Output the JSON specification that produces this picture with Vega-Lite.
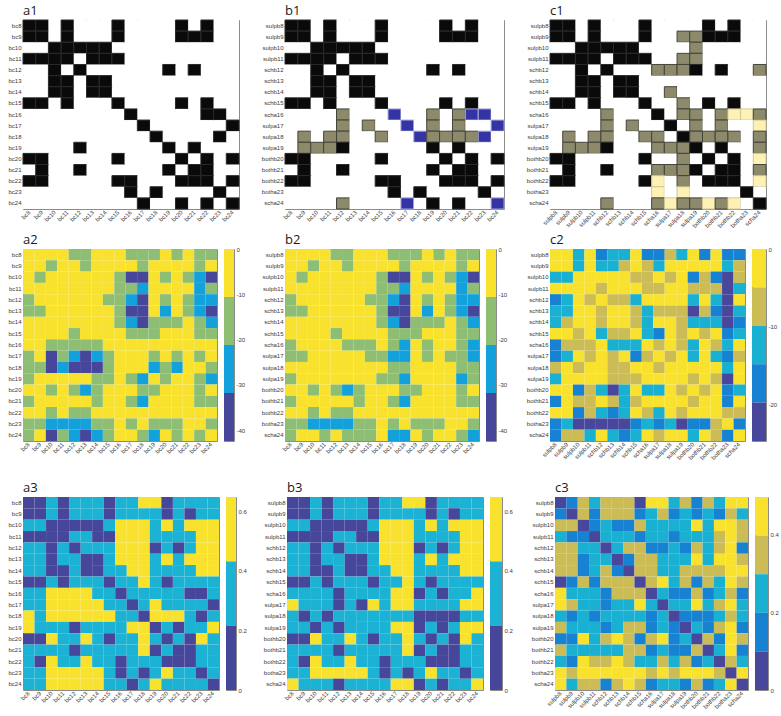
{
"$schema":"https://vega.github.io/schema/vega-lite/v6.json",
"background":"white",
"padding":{"left":-14,"top":4,"right":0,"bottom":0},
"columns":1,
"spacing":-7,
"align":"none",
"config":{
 "view":{"stroke":"#8a8a8a","strokeWidth":1},
 "axis":{"ticks":false,"domain":false,"grid":false,"labelFont":"Liberation Sans","labelFontSize":6,"labelColor":"#3a3a3a","labelPadding":2},
 "title":{"font":"Open Sans","fontSize":13,"fontWeight":"normal","anchor":"start","frame":"group","offset":2,"color":"#1a1a1a"}
},
"datasets":{
"cbA2":[{"k":0,"lo":-10.6,"hi":0},{"k":1,"lo":-21.2,"hi":-10.6},{"k":2,"lo":-31.8,"hi":-21.2},{"k":3,"lo":-42.4,"hi":-31.8}],
"cbC2":[{"k":0,"lo":-4.94,"hi":0},{"k":1,"lo":-9.88,"hi":-4.94},{"k":2,"lo":-14.82,"hi":-9.88},{"k":3,"lo":-19.76,"hi":-14.82},{"k":4,"lo":-24.7,"hi":-19.76}],
"cbA3":[{"k":0,"lo":0.431,"hi":0.647},{"k":1,"lo":0.216,"hi":0.431},{"k":2,"lo":0,"hi":0.216}],
"cbC3":[{"k":0,"lo":0.398,"hi":0.4975},{"k":1,"lo":0.2985,"hi":0.398},{"k":2,"lo":0.199,"hi":0.2985},{"k":3,"lo":0.0995,"hi":0.199},{"k":4,"lo":0,"hi":0.0995}],
"m":[
{"i":0,"j":0,"a1":1,"b1":1,"c1":1,"a2":0,"b2":0,"c2":0,"a3":2,"b3":2,"c3":4},
{"i":0,"j":1,"a1":1,"b1":1,"c1":1,"a2":0,"b2":0,"c2":0,"a3":2,"b3":2,"c3":3},
{"i":0,"j":2,"a1":0,"b1":0,"c1":0,"a2":0,"b2":0,"c2":2,"a3":1,"b3":1,"c3":1},
{"i":0,"j":3,"a1":1,"b1":1,"c1":1,"a2":0,"b2":0,"c2":0,"a3":2,"b3":2,"c3":2},
{"i":0,"j":4,"a1":0,"b1":0,"c1":0,"a2":1,"b2":1,"c2":3,"a3":1,"b3":1,"c3":1},
{"i":0,"j":5,"a1":0,"b1":0,"c1":0,"a2":1,"b2":1,"c2":2,"a3":1,"b3":1,"c3":1},
{"i":0,"j":6,"a1":0,"b1":0,"c1":0,"a2":0,"b2":0,"c2":2,"a3":1,"b3":1,"c3":1},
{"i":0,"j":7,"a1":1,"b1":1,"c1":1,"a2":0,"b2":0,"c2":0,"a3":2,"b3":2,"c3":4},
{"i":0,"j":8,"a1":0,"b1":0,"c1":0,"a2":0,"b2":0,"c2":3,"a3":1,"b3":1,"c3":0},
{"i":0,"j":9,"a1":0,"b1":0,"c1":0,"a2":1,"b2":1,"c2":3,"a3":1,"b3":1,"c3":0},
{"i":0,"j":10,"a1":0,"b1":0,"c1":0,"a2":1,"b2":1,"c2":1,"a3":0,"b3":0,"c3":2},
{"i":0,"j":11,"a1":0,"b1":0,"c1":0,"a2":1,"b2":1,"c2":2,"a3":0,"b3":0,"c3":1},
{"i":0,"j":12,"a1":1,"b1":1,"c1":1,"a2":0,"b2":0,"c2":0,"a3":2,"b3":2,"c3":3},
{"i":0,"j":13,"a1":0,"b1":0,"c1":0,"a2":1,"b2":1,"c2":3,"a3":1,"b3":1,"c3":1},
{"i":0,"j":14,"a1":1,"b1":1,"c1":1,"a2":0,"b2":0,"c2":0,"a3":1,"b3":1,"c3":2},
{"i":0,"j":15,"a1":0,"b1":0,"c1":0,"a2":1,"b2":1,"c2":3,"a3":1,"b3":1,"c3":0},
{"i":0,"j":16,"a1":0,"b1":0,"c1":0,"a2":1,"b2":1,"c2":3,"a3":1,"b3":1,"c3":0},
{"i":1,"j":0,"a1":1,"b1":1,"c1":1,"a2":0,"b2":0,"c2":0,"a3":2,"b3":2,"c3":3},
{"i":1,"j":1,"a1":1,"b1":1,"c1":1,"a2":0,"b2":0,"c2":0,"a3":2,"b3":2,"c3":4},
{"i":1,"j":2,"a1":0,"b1":0,"c1":0,"a2":1,"b2":1,"c2":2,"a3":1,"b3":1,"c3":1},
{"i":1,"j":3,"a1":1,"b1":1,"c1":1,"a2":0,"b2":0,"c2":0,"a3":2,"b3":2,"c3":3},
{"i":1,"j":4,"a1":0,"b1":0,"c1":0,"a2":0,"b2":0,"c2":2,"a3":1,"b3":1,"c3":1},
{"i":1,"j":5,"a1":0,"b1":0,"c1":0,"a2":1,"b2":1,"c2":2,"a3":1,"b3":1,"c3":1},
{"i":1,"j":6,"a1":0,"b1":0,"c1":0,"a2":0,"b2":0,"c2":1,"a3":1,"b3":1,"c3":1},
{"i":1,"j":7,"a1":1,"b1":1,"c1":1,"a2":0,"b2":0,"c2":0,"a3":2,"b3":2,"c3":3},
{"i":1,"j":8,"a1":0,"b1":0,"c1":0,"a2":0,"b2":0,"c2":1,"a3":1,"b3":1,"c3":2},
{"i":1,"j":9,"a1":0,"b1":0,"c1":0,"a2":0,"b2":0,"c2":2,"a3":1,"b3":1,"c3":1},
{"i":1,"j":10,"a1":0,"b1":0,"c1":2,"a2":1,"b2":1,"c2":0,"a3":1,"b3":1,"c3":3},
{"i":1,"j":11,"a1":0,"b1":0,"c1":2,"a2":0,"b2":0,"c2":0,"a3":1,"b3":1,"c3":2},
{"i":1,"j":12,"a1":1,"b1":1,"c1":1,"a2":0,"b2":0,"c2":0,"a3":2,"b3":2,"c3":3},
{"i":1,"j":13,"a1":1,"b1":1,"c1":1,"a2":0,"b2":0,"c2":0,"a3":1,"b3":1,"c3":2},
{"i":1,"j":14,"a1":1,"b1":1,"c1":1,"a2":0,"b2":0,"c2":0,"a3":2,"b3":2,"c3":3},
{"i":1,"j":15,"a1":0,"b1":0,"c1":0,"a2":1,"b2":1,"c2":2,"a3":1,"b3":1,"c3":1},
{"i":1,"j":16,"a1":0,"b1":0,"c1":0,"a2":0,"b2":0,"c2":1,"a3":1,"b3":1,"c3":2},
{"i":2,"j":0,"a1":0,"b1":0,"c1":0,"a2":0,"b2":0,"c2":2,"a3":1,"b3":1,"c3":1},
{"i":2,"j":1,"a1":0,"b1":0,"c1":0,"a2":1,"b2":1,"c2":2,"a3":1,"b3":1,"c3":1},
{"i":2,"j":2,"a1":1,"b1":1,"c1":1,"a2":0,"b2":0,"c2":0,"a3":2,"b3":2,"c3":4},
{"i":2,"j":3,"a1":1,"b1":1,"c1":1,"a2":0,"b2":0,"c2":0,"a3":2,"b3":2,"c3":3},
{"i":2,"j":4,"a1":1,"b1":1,"c1":1,"a2":0,"b2":0,"c2":0,"a3":2,"b3":2,"c3":2},
{"i":2,"j":5,"a1":1,"b1":1,"c1":1,"a2":0,"b2":0,"c2":0,"a3":2,"b3":2,"c3":3},
{"i":2,"j":6,"a1":1,"b1":1,"c1":1,"a2":0,"b2":0,"c2":0,"a3":2,"b3":2,"c3":3},
{"i":2,"j":7,"a1":0,"b1":0,"c1":0,"a2":0,"b2":0,"c2":1,"a3":1,"b3":1,"c3":1},
{"i":2,"j":8,"a1":0,"b1":0,"c1":0,"a2":1,"b2":1,"c2":1,"a3":0,"b3":0,"c3":2},
{"i":2,"j":9,"a1":0,"b1":0,"c1":0,"a2":3,"b2":3,"c2":0,"a3":0,"b3":0,"c3":2},
{"i":2,"j":10,"a1":0,"b1":0,"c1":0,"a2":3,"b2":3,"c2":1,"a3":0,"b3":0,"c3":2},
{"i":2,"j":11,"a1":0,"b1":0,"c1":2,"a2":0,"b2":0,"c2":0,"a3":1,"b3":1,"c3":2},
{"i":2,"j":12,"a1":0,"b1":0,"c1":0,"a2":1,"b2":1,"c2":3,"a3":0,"b3":0,"c3":0},
{"i":2,"j":13,"a1":0,"b1":0,"c1":0,"a2":0,"b2":0,"c2":1,"a3":1,"b3":1,"c3":2},
{"i":2,"j":14,"a1":0,"b1":0,"c1":0,"a2":1,"b2":1,"c2":3,"a3":0,"b3":0,"c3":0},
{"i":2,"j":15,"a1":0,"b1":0,"c1":0,"a2":2,"b2":2,"c2":4,"a3":0,"b3":0,"c3":0},
{"i":2,"j":16,"a1":0,"b1":0,"c1":0,"a2":3,"b2":3,"c2":1,"a3":0,"b3":0,"c3":1},
{"i":3,"j":0,"a1":1,"b1":1,"c1":1,"a2":0,"b2":0,"c2":0,"a3":2,"b3":2,"c3":2},
{"i":3,"j":1,"a1":1,"b1":1,"c1":1,"a2":0,"b2":0,"c2":0,"a3":2,"b3":2,"c3":3},
{"i":3,"j":2,"a1":1,"b1":1,"c1":1,"a2":0,"b2":0,"c2":0,"a3":2,"b3":2,"c3":3},
{"i":3,"j":3,"a1":1,"b1":1,"c1":1,"a2":0,"b2":0,"c2":0,"a3":2,"b3":2,"c3":4},
{"i":3,"j":4,"a1":0,"b1":0,"c1":0,"a2":0,"b2":0,"c2":1,"a3":1,"b3":1,"c3":2},
{"i":3,"j":5,"a1":1,"b1":1,"c1":1,"a2":0,"b2":0,"c2":0,"a3":1,"b3":1,"c3":2},
{"i":3,"j":6,"a1":1,"b1":1,"c1":1,"a2":0,"b2":0,"c2":0,"a3":2,"b3":2,"c3":2},
{"i":3,"j":7,"a1":1,"b1":1,"c1":1,"a2":0,"b2":0,"c2":0,"a3":2,"b3":2,"c3":3},
{"i":3,"j":8,"a1":0,"b1":0,"c1":0,"a2":1,"b2":1,"c2":1,"a3":0,"b3":0,"c3":2},
{"i":3,"j":9,"a1":0,"b1":0,"c1":0,"a2":1,"b2":1,"c2":1,"a3":0,"b3":0,"c3":2},
{"i":3,"j":10,"a1":0,"b1":0,"c1":2,"a2":2,"b2":2,"c2":0,"a3":0,"b3":0,"c3":3},
{"i":3,"j":11,"a1":0,"b1":0,"c1":2,"a2":0,"b2":0,"c2":0,"a3":1,"b3":1,"c3":2},
{"i":3,"j":12,"a1":0,"b1":0,"c1":0,"a2":0,"b2":0,"c2":1,"a3":1,"b3":1,"c3":2},
{"i":3,"j":13,"a1":0,"b1":0,"c1":0,"a2":0,"b2":0,"c2":1,"a3":1,"b3":1,"c3":2},
{"i":3,"j":14,"a1":0,"b1":0,"c1":0,"a2":0,"b2":0,"c2":1,"a3":1,"b3":1,"c3":1},
{"i":3,"j":15,"a1":0,"b1":0,"c1":0,"a2":2,"b2":2,"c2":4,"a3":0,"b3":0,"c3":0},
{"i":3,"j":16,"a1":0,"b1":0,"c1":0,"a2":1,"b2":1,"c2":2,"a3":0,"b3":0,"c3":1},
{"i":4,"j":0,"a1":0,"b1":0,"c1":0,"a2":1,"b2":1,"c2":3,"a3":1,"b3":1,"c3":1},
{"i":4,"j":1,"a1":0,"b1":0,"c1":0,"a2":0,"b2":0,"c2":2,"a3":1,"b3":1,"c3":1},
{"i":4,"j":2,"a1":1,"b1":1,"c1":1,"a2":0,"b2":0,"c2":0,"a3":2,"b3":2,"c3":2},
{"i":4,"j":3,"a1":0,"b1":0,"c1":0,"a2":0,"b2":0,"c2":1,"a3":1,"b3":1,"c3":2},
{"i":4,"j":4,"a1":1,"b1":1,"c1":1,"a2":0,"b2":0,"c2":0,"a3":2,"b3":2,"c3":4},
{"i":4,"j":5,"a1":0,"b1":0,"c1":0,"a2":0,"b2":0,"c2":1,"a3":1,"b3":1,"c3":2},
{"i":4,"j":6,"a1":0,"b1":0,"c1":0,"a2":0,"b2":0,"c2":1,"a3":1,"b3":1,"c3":1},
{"i":4,"j":7,"a1":0,"b1":0,"c1":0,"a2":1,"b2":1,"c2":2,"a3":1,"b3":1,"c3":1},
{"i":4,"j":8,"a1":0,"b1":0,"c1":2,"a2":1,"b2":1,"c2":0,"a3":0,"b3":0,"c3":3},
{"i":4,"j":9,"a1":0,"b1":0,"c1":2,"a2":2,"b2":2,"c2":0,"a3":0,"b3":0,"c3":3},
{"i":4,"j":10,"a1":0,"b1":0,"c1":2,"a2":3,"b2":3,"c2":0,"a3":0,"b3":0,"c3":2},
{"i":4,"j":11,"a1":1,"b1":1,"c1":1,"a2":0,"b2":0,"c2":0,"a3":2,"b3":2,"c3":3},
{"i":4,"j":12,"a1":0,"b1":0,"c1":0,"a2":1,"b2":1,"c2":2,"a3":1,"b3":1,"c3":1},
{"i":4,"j":13,"a1":1,"b1":1,"c1":1,"a2":0,"b2":0,"c2":0,"a3":2,"b3":2,"c3":2},
{"i":4,"j":14,"a1":0,"b1":0,"c1":0,"a2":1,"b2":1,"c2":2,"a3":1,"b3":1,"c3":1},
{"i":4,"j":15,"a1":0,"b1":0,"c1":0,"a2":2,"b2":2,"c2":4,"a3":0,"b3":0,"c3":0},
{"i":4,"j":16,"a1":0,"b1":0,"c1":2,"a2":2,"b2":2,"c2":0,"a3":0,"b3":0,"c3":3},
{"i":5,"j":0,"a1":0,"b1":0,"c1":0,"a2":1,"b2":1,"c2":2,"a3":1,"b3":1,"c3":1},
{"i":5,"j":1,"a1":0,"b1":0,"c1":0,"a2":1,"b2":1,"c2":2,"a3":1,"b3":1,"c3":1},
{"i":5,"j":2,"a1":1,"b1":1,"c1":1,"a2":0,"b2":0,"c2":0,"a3":2,"b3":2,"c3":3},
{"i":5,"j":3,"a1":1,"b1":1,"c1":1,"a2":0,"b2":0,"c2":0,"a3":1,"b3":1,"c3":2},
{"i":5,"j":4,"a1":0,"b1":0,"c1":0,"a2":0,"b2":0,"c2":1,"a3":1,"b3":1,"c3":2},
{"i":5,"j":5,"a1":1,"b1":1,"c1":1,"a2":0,"b2":0,"c2":0,"a3":2,"b3":2,"c3":4},
{"i":5,"j":6,"a1":1,"b1":1,"c1":1,"a2":0,"b2":0,"c2":0,"a3":2,"b3":2,"c3":3},
{"i":5,"j":7,"a1":0,"b1":0,"c1":0,"a2":0,"b2":0,"c2":1,"a3":1,"b3":1,"c3":1},
{"i":5,"j":8,"a1":0,"b1":0,"c1":0,"a2":1,"b2":1,"c2":2,"a3":0,"b3":0,"c3":1},
{"i":5,"j":9,"a1":0,"b1":0,"c1":0,"a2":3,"b2":3,"c2":1,"a3":0,"b3":0,"c3":2},
{"i":5,"j":10,"a1":0,"b1":0,"c1":0,"a2":3,"b2":3,"c2":1,"a3":0,"b3":0,"c3":2},
{"i":5,"j":11,"a1":0,"b1":0,"c1":0,"a2":0,"b2":0,"c2":1,"a3":1,"b3":1,"c3":2},
{"i":5,"j":12,"a1":0,"b1":0,"c1":0,"a2":2,"b2":2,"c2":4,"a3":0,"b3":0,"c3":0},
{"i":5,"j":13,"a1":0,"b1":0,"c1":0,"a2":0,"b2":0,"c2":1,"a3":1,"b3":1,"c3":2},
{"i":5,"j":14,"a1":0,"b1":0,"c1":0,"a2":1,"b2":1,"c2":3,"a3":0,"b3":0,"c3":0},
{"i":5,"j":15,"a1":0,"b1":0,"c1":0,"a2":2,"b2":2,"c2":4,"a3":0,"b3":0,"c3":0},
{"i":5,"j":16,"a1":0,"b1":0,"c1":0,"a2":3,"b2":3,"c2":2,"a3":0,"b3":0,"c3":1},
{"i":6,"j":0,"a1":0,"b1":0,"c1":0,"a2":0,"b2":0,"c2":2,"a3":1,"b3":1,"c3":1},
{"i":6,"j":1,"a1":0,"b1":0,"c1":0,"a2":0,"b2":0,"c2":1,"a3":1,"b3":1,"c3":1},
{"i":6,"j":2,"a1":1,"b1":1,"c1":1,"a2":0,"b2":0,"c2":0,"a3":2,"b3":2,"c3":3},
{"i":6,"j":3,"a1":1,"b1":1,"c1":1,"a2":0,"b2":0,"c2":0,"a3":2,"b3":2,"c3":2},
{"i":6,"j":4,"a1":0,"b1":0,"c1":0,"a2":0,"b2":0,"c2":1,"a3":1,"b3":1,"c3":1},
{"i":6,"j":5,"a1":1,"b1":1,"c1":1,"a2":0,"b2":0,"c2":0,"a3":2,"b3":2,"c3":3},
{"i":6,"j":6,"a1":1,"b1":1,"c1":1,"a2":0,"b2":0,"c2":0,"a3":2,"b3":2,"c3":4},
{"i":6,"j":7,"a1":0,"b1":0,"c1":0,"a2":0,"b2":0,"c2":1,"a3":1,"b3":1,"c3":1},
{"i":6,"j":8,"a1":0,"b1":0,"c1":0,"a2":1,"b2":1,"c2":2,"a3":1,"b3":1,"c3":1},
{"i":6,"j":9,"a1":0,"b1":0,"c1":2,"a2":2,"b2":2,"c2":0,"a3":0,"b3":0,"c3":2},
{"i":6,"j":10,"a1":0,"b1":0,"c1":0,"a2":3,"b2":3,"c2":0,"a3":0,"b3":0,"c3":2},
{"i":6,"j":11,"a1":0,"b1":0,"c1":0,"a2":1,"b2":1,"c2":1,"a3":1,"b3":1,"c3":1},
{"i":6,"j":12,"a1":0,"b1":0,"c1":0,"a2":1,"b2":1,"c2":2,"a3":1,"b3":1,"c3":1},
{"i":6,"j":13,"a1":0,"b1":0,"c1":0,"a2":1,"b2":1,"c2":2,"a3":1,"b3":1,"c3":1},
{"i":6,"j":14,"a1":0,"b1":0,"c1":0,"a2":0,"b2":0,"c2":2,"a3":1,"b3":1,"c3":1},
{"i":6,"j":15,"a1":0,"b1":0,"c1":0,"a2":1,"b2":1,"c2":4,"a3":0,"b3":0,"c3":0},
{"i":6,"j":16,"a1":0,"b1":0,"c1":0,"a2":2,"b2":2,"c2":3,"a3":0,"b3":0,"c3":0},
{"i":7,"j":0,"a1":1,"b1":1,"c1":1,"a2":0,"b2":0,"c2":0,"a3":2,"b3":2,"c3":4},
{"i":7,"j":1,"a1":1,"b1":1,"c1":1,"a2":0,"b2":0,"c2":0,"a3":2,"b3":2,"c3":3},
{"i":7,"j":2,"a1":0,"b1":0,"c1":0,"a2":0,"b2":0,"c2":1,"a3":1,"b3":1,"c3":1},
{"i":7,"j":3,"a1":1,"b1":1,"c1":1,"a2":0,"b2":0,"c2":0,"a3":2,"b3":2,"c3":3},
{"i":7,"j":4,"a1":0,"b1":0,"c1":0,"a2":1,"b2":1,"c2":2,"a3":1,"b3":1,"c3":1},
{"i":7,"j":5,"a1":0,"b1":0,"c1":0,"a2":0,"b2":0,"c2":1,"a3":1,"b3":1,"c3":1},
{"i":7,"j":6,"a1":0,"b1":0,"c1":0,"a2":0,"b2":0,"c2":1,"a3":1,"b3":1,"c3":1},
{"i":7,"j":7,"a1":1,"b1":1,"c1":1,"a2":0,"b2":0,"c2":0,"a3":2,"b3":2,"c3":4},
{"i":7,"j":8,"a1":0,"b1":0,"c1":0,"a2":0,"b2":0,"c2":2,"a3":1,"b3":1,"c3":1},
{"i":7,"j":9,"a1":0,"b1":0,"c1":0,"a2":1,"b2":1,"c2":3,"a3":1,"b3":1,"c3":0},
{"i":7,"j":10,"a1":0,"b1":0,"c1":2,"a2":1,"b2":1,"c2":0,"a3":0,"b3":0,"c3":2},
{"i":7,"j":11,"a1":0,"b1":0,"c1":0,"a2":1,"b2":1,"c2":1,"a3":1,"b3":1,"c3":1},
{"i":7,"j":12,"a1":1,"b1":1,"c1":1,"a2":0,"b2":0,"c2":0,"a3":2,"b3":2,"c3":3},
{"i":7,"j":13,"a1":0,"b1":0,"c1":0,"a2":0,"b2":0,"c2":1,"a3":1,"b3":1,"c3":1},
{"i":7,"j":14,"a1":1,"b1":1,"c1":1,"a2":0,"b2":0,"c2":0,"a3":1,"b3":1,"c3":2},
{"i":7,"j":15,"a1":0,"b1":0,"c1":0,"a2":1,"b2":1,"c2":3,"a3":1,"b3":1,"c3":0},
{"i":7,"j":16,"a1":0,"b1":0,"c1":0,"a2":1,"b2":1,"c2":2,"a3":1,"b3":1,"c3":1},
{"i":8,"j":0,"a1":0,"b1":0,"c1":0,"a2":0,"b2":1,"c2":3,"a3":1,"b3":1,"c3":0},
{"i":8,"j":1,"a1":0,"b1":0,"c1":0,"a2":0,"b2":0,"c2":1,"a3":1,"b3":1,"c3":2},
{"i":8,"j":2,"a1":0,"b1":0,"c1":0,"a2":1,"b2":0,"c2":1,"a3":0,"b3":1,"c3":2},
{"i":8,"j":3,"a1":0,"b1":0,"c1":0,"a2":1,"b2":0,"c2":1,"a3":0,"b3":1,"c3":2},
{"i":8,"j":4,"a1":0,"b1":2,"c1":2,"a2":1,"b2":0,"c2":0,"a3":0,"b3":2,"c3":3},
{"i":8,"j":5,"a1":0,"b1":0,"c1":0,"a2":1,"b2":1,"c2":2,"a3":0,"b3":1,"c3":1},
{"i":8,"j":6,"a1":0,"b1":0,"c1":0,"a2":1,"b2":1,"c2":2,"a3":1,"b3":1,"c3":1},
{"i":8,"j":7,"a1":0,"b1":0,"c1":0,"a2":0,"b2":1,"c2":2,"a3":1,"b3":1,"c3":1},
{"i":8,"j":8,"a1":1,"b1":3,"c1":1,"a2":0,"b2":0,"c2":0,"a3":2,"b3":1,"c3":4},
{"i":8,"j":9,"a1":0,"b1":0,"c1":0,"a2":0,"b2":1,"c2":1,"a3":1,"b3":0,"c3":2},
{"i":8,"j":10,"a1":0,"b1":0,"c1":2,"a2":0,"b2":2,"c2":0,"a3":1,"b3":0,"c3":3},
{"i":8,"j":11,"a1":0,"b1":2,"c1":2,"a2":0,"b2":0,"c2":1,"a3":1,"b3":2,"c3":3},
{"i":8,"j":12,"a1":0,"b1":0,"c1":0,"a2":0,"b2":1,"c2":2,"a3":1,"b3":1,"c3":1},
{"i":8,"j":13,"a1":0,"b1":2,"c1":2,"a2":0,"b2":0,"c2":0,"a3":1,"b3":2,"c3":3},
{"i":8,"j":14,"a1":1,"b1":3,"c1":4,"a2":0,"b2":0,"c2":1,"a3":2,"b3":1,"c3":2},
{"i":8,"j":15,"a1":1,"b1":3,"c1":4,"a2":0,"b2":1,"c2":2,"a3":2,"b3":1,"c3":1},
{"i":8,"j":16,"a1":0,"b1":0,"c1":2,"a2":0,"b2":2,"c2":0,"a3":1,"b3":0,"c3":3},
{"i":9,"j":0,"a1":0,"b1":0,"c1":0,"a2":1,"b2":1,"c2":3,"a3":1,"b3":0,"c3":0},
{"i":9,"j":1,"a1":0,"b1":0,"c1":0,"a2":0,"b2":1,"c2":2,"a3":1,"b3":1,"c3":1},
{"i":9,"j":2,"a1":0,"b1":0,"c1":0,"a2":3,"b2":0,"c2":0,"a3":0,"b3":1,"c3":2},
{"i":9,"j":3,"a1":0,"b1":0,"c1":0,"a2":1,"b2":0,"c2":1,"a3":0,"b3":1,"c3":2},
{"i":9,"j":4,"a1":0,"b1":2,"c1":2,"a2":2,"b2":0,"c2":0,"a3":0,"b3":2,"c3":3},
{"i":9,"j":5,"a1":0,"b1":0,"c1":0,"a2":3,"b2":0,"c2":1,"a3":0,"b3":1,"c3":2},
{"i":9,"j":6,"a1":0,"b1":2,"c1":2,"a2":2,"b2":0,"c2":0,"a3":0,"b3":2,"c3":2},
{"i":9,"j":7,"a1":0,"b1":0,"c1":0,"a2":1,"b2":1,"c2":3,"a3":1,"b3":0,"c3":0},
{"i":9,"j":8,"a1":0,"b1":0,"c1":0,"a2":0,"b2":1,"c2":1,"a3":1,"b3":1,"c3":2},
{"i":9,"j":9,"a1":1,"b1":3,"c1":1,"a2":0,"b2":2,"c2":0,"a3":2,"b3":0,"c3":4},
{"i":9,"j":10,"a1":0,"b1":0,"c1":0,"a2":0,"b2":2,"c2":1,"a3":1,"b3":0,"c3":2},
{"i":9,"j":11,"a1":0,"b1":2,"c1":2,"a2":1,"b2":0,"c2":0,"a3":0,"b3":1,"c3":2},
{"i":9,"j":12,"a1":0,"b1":0,"c1":0,"a2":0,"b2":1,"c2":2,"a3":1,"b3":1,"c3":0},
{"i":9,"j":13,"a1":0,"b1":2,"c1":2,"a2":1,"b2":0,"c2":0,"a3":1,"b3":1,"c3":2},
{"i":9,"j":14,"a1":0,"b1":0,"c1":0,"a2":0,"b2":1,"c2":2,"a3":1,"b3":1,"c3":1},
{"i":9,"j":15,"a1":0,"b1":0,"c1":0,"a2":1,"b2":1,"c2":3,"a3":1,"b3":0,"c3":0},
{"i":9,"j":16,"a1":1,"b1":3,"c1":4,"a2":0,"b2":2,"c2":1,"a3":2,"b3":0,"c3":2},
{"i":10,"j":0,"a1":0,"b1":0,"c1":0,"a2":1,"b2":0,"c2":1,"a3":0,"b3":1,"c3":2},
{"i":10,"j":1,"a1":0,"b1":2,"c1":2,"a2":1,"b2":0,"c2":0,"a3":1,"b3":2,"c3":3},
{"i":10,"j":2,"a1":0,"b1":0,"c1":0,"a2":3,"b2":0,"c2":1,"a3":0,"b3":1,"c3":2},
{"i":10,"j":3,"a1":0,"b1":2,"c1":2,"a2":2,"b2":0,"c2":0,"a3":0,"b3":2,"c3":3},
{"i":10,"j":4,"a1":0,"b1":2,"c1":2,"a2":3,"b2":0,"c2":0,"a3":0,"b3":1,"c3":2},
{"i":10,"j":5,"a1":0,"b1":0,"c1":0,"a2":3,"b2":0,"c2":1,"a3":0,"b3":1,"c3":2},
{"i":10,"j":6,"a1":0,"b1":0,"c1":0,"a2":3,"b2":0,"c2":1,"a3":0,"b3":1,"c3":2},
{"i":10,"j":7,"a1":0,"b1":2,"c1":2,"a2":1,"b2":0,"c2":0,"a3":0,"b3":1,"c3":2},
{"i":10,"j":8,"a1":0,"b1":0,"c1":2,"a2":0,"b2":0,"c2":0,"a3":1,"b3":1,"c3":3},
{"i":10,"j":9,"a1":0,"b1":0,"c1":0,"a2":0,"b2":1,"c2":1,"a3":1,"b3":1,"c3":2},
{"i":10,"j":10,"a1":1,"b1":3,"c1":1,"a2":0,"b2":1,"c2":0,"a3":2,"b3":1,"c3":4},
{"i":10,"j":11,"a1":0,"b1":2,"c1":2,"a2":2,"b2":0,"c2":0,"a3":0,"b3":2,"c3":3},
{"i":10,"j":12,"a1":0,"b1":2,"c1":2,"a2":1,"b2":0,"c2":0,"a3":0,"b3":2,"c3":3},
{"i":10,"j":13,"a1":0,"b1":2,"c1":2,"a2":2,"b2":0,"c2":0,"a3":0,"b3":2,"c3":3},
{"i":10,"j":14,"a1":0,"b1":2,"c1":2,"a2":0,"b2":0,"c2":0,"a3":1,"b3":2,"c3":2},
{"i":10,"j":15,"a1":1,"b1":3,"c1":0,"a2":0,"b2":1,"c2":2,"a3":2,"b3":1,"c3":1},
{"i":10,"j":16,"a1":0,"b1":0,"c1":2,"a2":1,"b2":1,"c2":0,"a3":1,"b3":1,"c3":2},
{"i":11,"j":0,"a1":0,"b1":0,"c1":0,"a2":1,"b2":1,"c2":2,"a3":0,"b3":1,"c3":1},
{"i":11,"j":1,"a1":0,"b1":2,"c1":2,"a2":0,"b2":0,"c2":0,"a3":1,"b3":1,"c3":2},
{"i":11,"j":2,"a1":0,"b1":2,"c1":2,"a2":0,"b2":0,"c2":0,"a3":1,"b3":2,"c3":2},
{"i":11,"j":3,"a1":0,"b1":2,"c1":2,"a2":0,"b2":0,"c2":0,"a3":1,"b3":1,"c3":2},
{"i":11,"j":4,"a1":1,"b1":1,"c1":1,"a2":0,"b2":0,"c2":0,"a3":2,"b3":2,"c3":3},
{"i":11,"j":5,"a1":0,"b1":0,"c1":0,"a2":0,"b2":0,"c2":1,"a3":1,"b3":1,"c3":2},
{"i":11,"j":6,"a1":0,"b1":0,"c1":0,"a2":1,"b2":0,"c2":1,"a3":1,"b3":1,"c3":1},
{"i":11,"j":7,"a1":0,"b1":0,"c1":0,"a2":1,"b2":0,"c2":1,"a3":1,"b3":1,"c3":1},
{"i":11,"j":8,"a1":0,"b1":0,"c1":2,"a2":0,"b2":1,"c2":0,"a3":1,"b3":1,"c3":3},
{"i":11,"j":9,"a1":0,"b1":0,"c1":2,"a2":1,"b2":1,"c2":0,"a3":0,"b3":0,"c3":2},
{"i":11,"j":10,"a1":0,"b1":0,"c1":2,"a2":2,"b2":2,"c2":0,"a3":0,"b3":0,"c3":3},
{"i":11,"j":11,"a1":1,"b1":1,"c1":1,"a2":0,"b2":0,"c2":0,"a3":2,"b3":2,"c3":4},
{"i":11,"j":12,"a1":0,"b1":0,"c1":0,"a2":1,"b2":0,"c2":1,"a3":1,"b3":1,"c3":2},
{"i":11,"j":13,"a1":1,"b1":1,"c1":1,"a2":0,"b2":0,"c2":0,"a3":2,"b3":2,"c3":3},
{"i":11,"j":14,"a1":0,"b1":0,"c1":0,"a2":0,"b2":0,"c2":1,"a3":1,"b3":1,"c3":1},
{"i":11,"j":15,"a1":0,"b1":0,"c1":0,"a2":1,"b2":2,"c2":4,"a3":1,"b3":0,"c3":0},
{"i":11,"j":16,"a1":0,"b1":0,"c1":2,"a2":2,"b2":1,"c2":0,"a3":0,"b3":0,"c3":3},
{"i":12,"j":0,"a1":1,"b1":1,"c1":1,"a2":0,"b2":0,"c2":0,"a3":2,"b3":2,"c3":3},
{"i":12,"j":1,"a1":1,"b1":1,"c1":1,"a2":0,"b2":0,"c2":0,"a3":2,"b3":2,"c3":3},
{"i":12,"j":2,"a1":0,"b1":0,"c1":0,"a2":1,"b2":1,"c2":3,"a3":0,"b3":0,"c3":0},
{"i":12,"j":3,"a1":0,"b1":0,"c1":0,"a2":0,"b2":0,"c2":1,"a3":1,"b3":1,"c3":2},
{"i":12,"j":4,"a1":0,"b1":0,"c1":0,"a2":1,"b2":1,"c2":2,"a3":1,"b3":1,"c3":1},
{"i":12,"j":5,"a1":0,"b1":0,"c1":0,"a2":2,"b2":2,"c2":4,"a3":0,"b3":0,"c3":0},
{"i":12,"j":6,"a1":0,"b1":0,"c1":0,"a2":1,"b2":1,"c2":2,"a3":1,"b3":1,"c3":1},
{"i":12,"j":7,"a1":1,"b1":1,"c1":1,"a2":0,"b2":0,"c2":0,"a3":2,"b3":2,"c3":3},
{"i":12,"j":8,"a1":0,"b1":0,"c1":0,"a2":0,"b2":0,"c2":2,"a3":1,"b3":1,"c3":1},
{"i":12,"j":9,"a1":0,"b1":0,"c1":0,"a2":0,"b2":0,"c2":2,"a3":1,"b3":1,"c3":0},
{"i":12,"j":10,"a1":0,"b1":0,"c1":2,"a2":1,"b2":1,"c2":0,"a3":0,"b3":0,"c3":3},
{"i":12,"j":11,"a1":0,"b1":0,"c1":0,"a2":1,"b2":1,"c2":1,"a3":1,"b3":1,"c3":2},
{"i":12,"j":12,"a1":1,"b1":1,"c1":1,"a2":0,"b2":0,"c2":0,"a3":2,"b3":2,"c3":4},
{"i":12,"j":13,"a1":0,"b1":0,"c1":0,"a2":0,"b2":0,"c2":1,"a3":1,"b3":1,"c3":1},
{"i":12,"j":14,"a1":1,"b1":1,"c1":1,"a2":0,"b2":0,"c2":0,"a3":2,"b3":2,"c3":3},
{"i":12,"j":15,"a1":0,"b1":0,"c1":0,"a2":1,"b2":1,"c2":3,"a3":0,"b3":0,"c3":0},
{"i":12,"j":16,"a1":1,"b1":1,"c1":4,"a2":0,"b2":0,"c2":2,"a3":1,"b3":1,"c3":1},
{"i":13,"j":0,"a1":0,"b1":0,"c1":0,"a2":1,"b2":1,"c2":3,"a3":1,"b3":1,"c3":1},
{"i":13,"j":1,"a1":1,"b1":1,"c1":1,"a2":0,"b2":0,"c2":0,"a3":1,"b3":1,"c3":2},
{"i":13,"j":2,"a1":0,"b1":0,"c1":0,"a2":0,"b2":0,"c2":1,"a3":1,"b3":1,"c3":2},
{"i":13,"j":3,"a1":0,"b1":0,"c1":0,"a2":0,"b2":0,"c2":1,"a3":1,"b3":1,"c3":2},
{"i":13,"j":4,"a1":1,"b1":1,"c1":1,"a2":0,"b2":0,"c2":0,"a3":2,"b3":2,"c3":2},
{"i":13,"j":5,"a1":0,"b1":0,"c1":0,"a2":0,"b2":0,"c2":1,"a3":1,"b3":1,"c3":2},
{"i":13,"j":6,"a1":0,"b1":0,"c1":0,"a2":1,"b2":1,"c2":2,"a3":1,"b3":1,"c3":1},
{"i":13,"j":7,"a1":0,"b1":0,"c1":0,"a2":0,"b2":0,"c2":1,"a3":1,"b3":1,"c3":1},
{"i":13,"j":8,"a1":0,"b1":0,"c1":2,"a2":0,"b2":0,"c2":0,"a3":1,"b3":1,"c3":3},
{"i":13,"j":9,"a1":0,"b1":0,"c1":2,"a2":1,"b2":1,"c2":0,"a3":1,"b3":1,"c3":2},
{"i":13,"j":10,"a1":0,"b1":0,"c1":2,"a2":2,"b2":2,"c2":0,"a3":0,"b3":0,"c3":3},
{"i":13,"j":11,"a1":1,"b1":1,"c1":1,"a2":0,"b2":0,"c2":0,"a3":2,"b3":2,"c3":3},
{"i":13,"j":12,"a1":0,"b1":0,"c1":0,"a2":0,"b2":0,"c2":1,"a3":1,"b3":1,"c3":1},
{"i":13,"j":13,"a1":1,"b1":1,"c1":1,"a2":0,"b2":0,"c2":0,"a3":2,"b3":2,"c3":4},
{"i":13,"j":14,"a1":1,"b1":1,"c1":1,"a2":0,"b2":0,"c2":0,"a3":2,"b3":2,"c3":2},
{"i":13,"j":15,"a1":0,"b1":0,"c1":0,"a2":1,"b2":1,"c2":3,"a3":1,"b3":1,"c3":0},
{"i":13,"j":16,"a1":0,"b1":0,"c1":2,"a2":1,"b2":1,"c2":0,"a3":1,"b3":1,"c3":3},
{"i":14,"j":0,"a1":1,"b1":1,"c1":1,"a2":0,"b2":0,"c2":0,"a3":1,"b3":1,"c3":2},
{"i":14,"j":1,"a1":1,"b1":1,"c1":1,"a2":0,"b2":0,"c2":0,"a3":2,"b3":2,"c3":3},
{"i":14,"j":2,"a1":0,"b1":0,"c1":0,"a2":1,"b2":1,"c2":3,"a3":0,"b3":0,"c3":0},
{"i":14,"j":3,"a1":0,"b1":0,"c1":0,"a2":0,"b2":0,"c2":1,"a3":1,"b3":1,"c3":1},
{"i":14,"j":4,"a1":0,"b1":0,"c1":0,"a2":1,"b2":1,"c2":2,"a3":1,"b3":1,"c3":1},
{"i":14,"j":5,"a1":0,"b1":0,"c1":0,"a2":1,"b2":1,"c2":3,"a3":0,"b3":0,"c3":0},
{"i":14,"j":6,"a1":0,"b1":0,"c1":0,"a2":0,"b2":0,"c2":2,"a3":1,"b3":1,"c3":1},
{"i":14,"j":7,"a1":1,"b1":1,"c1":1,"a2":0,"b2":0,"c2":0,"a3":1,"b3":1,"c3":2},
{"i":14,"j":8,"a1":1,"b1":1,"c1":4,"a2":0,"b2":0,"c2":1,"a3":2,"b3":2,"c3":2},
{"i":14,"j":9,"a1":0,"b1":0,"c1":0,"a2":0,"b2":0,"c2":2,"a3":1,"b3":1,"c3":1},
{"i":14,"j":10,"a1":0,"b1":0,"c1":2,"a2":0,"b2":0,"c2":0,"a3":1,"b3":1,"c3":2},
{"i":14,"j":11,"a1":0,"b1":0,"c1":0,"a2":0,"b2":0,"c2":1,"a3":1,"b3":1,"c3":1},
{"i":14,"j":12,"a1":1,"b1":1,"c1":1,"a2":0,"b2":0,"c2":0,"a3":2,"b3":2,"c3":3},
{"i":14,"j":13,"a1":1,"b1":1,"c1":1,"a2":0,"b2":0,"c2":0,"a3":2,"b3":2,"c3":2},
{"i":14,"j":14,"a1":1,"b1":1,"c1":1,"a2":0,"b2":0,"c2":0,"a3":2,"b3":2,"c3":4},
{"i":14,"j":15,"a1":0,"b1":0,"c1":0,"a2":0,"b2":0,"c2":1,"a3":1,"b3":1,"c3":1},
{"i":14,"j":16,"a1":1,"b1":1,"c1":4,"a2":0,"b2":0,"c2":1,"a3":1,"b3":1,"c3":2},
{"i":15,"j":0,"a1":0,"b1":0,"c1":0,"a2":1,"b2":1,"c2":3,"a3":1,"b3":1,"c3":0},
{"i":15,"j":1,"a1":0,"b1":0,"c1":0,"a2":1,"b2":1,"c2":2,"a3":1,"b3":1,"c3":1},
{"i":15,"j":2,"a1":0,"b1":0,"c1":0,"a2":2,"b2":2,"c2":4,"a3":0,"b3":0,"c3":0},
{"i":15,"j":3,"a1":0,"b1":0,"c1":0,"a2":2,"b2":2,"c2":4,"a3":0,"b3":0,"c3":0},
{"i":15,"j":4,"a1":0,"b1":0,"c1":0,"a2":2,"b2":2,"c2":4,"a3":0,"b3":0,"c3":0},
{"i":15,"j":5,"a1":0,"b1":0,"c1":0,"a2":2,"b2":2,"c2":4,"a3":0,"b3":0,"c3":0},
{"i":15,"j":6,"a1":0,"b1":0,"c1":0,"a2":1,"b2":1,"c2":4,"a3":0,"b3":0,"c3":0},
{"i":15,"j":7,"a1":0,"b1":0,"c1":0,"a2":1,"b2":1,"c2":3,"a3":1,"b3":1,"c3":0},
{"i":15,"j":8,"a1":1,"b1":1,"c1":4,"a2":0,"b2":0,"c2":2,"a3":2,"b3":2,"c3":1},
{"i":15,"j":9,"a1":0,"b1":0,"c1":0,"a2":1,"b2":1,"c2":3,"a3":1,"b3":1,"c3":0},
{"i":15,"j":10,"a1":1,"b1":1,"c1":4,"a2":0,"b2":0,"c2":2,"a3":2,"b3":2,"c3":1},
{"i":15,"j":11,"a1":0,"b1":0,"c1":0,"a2":1,"b2":1,"c2":4,"a3":1,"b3":1,"c3":0},
{"i":15,"j":12,"a1":0,"b1":0,"c1":0,"a2":1,"b2":1,"c2":3,"a3":0,"b3":0,"c3":0},
{"i":15,"j":13,"a1":0,"b1":0,"c1":0,"a2":1,"b2":1,"c2":3,"a3":1,"b3":1,"c3":0},
{"i":15,"j":14,"a1":0,"b1":0,"c1":0,"a2":0,"b2":0,"c2":1,"a3":1,"b3":1,"c3":1},
{"i":15,"j":15,"a1":1,"b1":1,"c1":1,"a2":0,"b2":0,"c2":0,"a3":2,"b3":2,"c3":4},
{"i":15,"j":16,"a1":0,"b1":0,"c1":0,"a2":1,"b2":1,"c2":3,"a3":1,"b3":1,"c3":0},
{"i":16,"j":0,"a1":0,"b1":0,"c1":0,"a2":1,"b2":1,"c2":3,"a3":1,"b3":0,"c3":0},
{"i":16,"j":1,"a1":0,"b1":0,"c1":0,"a2":0,"b2":0,"c2":1,"a3":1,"b3":1,"c3":2},
{"i":16,"j":2,"a1":0,"b1":0,"c1":0,"a2":3,"b2":0,"c2":1,"a3":0,"b3":1,"c3":1},
{"i":16,"j":3,"a1":0,"b1":0,"c1":0,"a2":1,"b2":1,"c2":2,"a3":0,"b3":1,"c3":1},
{"i":16,"j":4,"a1":0,"b1":2,"c1":2,"a2":2,"b2":0,"c2":0,"a3":0,"b3":2,"c3":3},
{"i":16,"j":5,"a1":0,"b1":0,"c1":0,"a2":3,"b2":1,"c2":2,"a3":0,"b3":1,"c3":1},
{"i":16,"j":6,"a1":0,"b1":0,"c1":0,"a2":2,"b2":1,"c2":3,"a3":0,"b3":1,"c3":0},
{"i":16,"j":7,"a1":0,"b1":0,"c1":0,"a2":1,"b2":1,"c2":2,"a3":1,"b3":1,"c3":1},
{"i":16,"j":8,"a1":0,"b1":0,"c1":2,"a2":0,"b2":0,"c2":0,"a3":1,"b3":1,"c3":3},
{"i":16,"j":9,"a1":1,"b1":3,"c1":4,"a2":0,"b2":2,"c2":1,"a3":2,"b3":0,"c3":2},
{"i":16,"j":10,"a1":0,"b1":0,"c1":2,"a2":1,"b2":2,"c2":0,"a3":1,"b3":0,"c3":2},
{"i":16,"j":11,"a1":0,"b1":1,"c1":2,"a2":2,"b2":0,"c2":0,"a3":0,"b3":2,"c3":3},
{"i":16,"j":12,"a1":1,"b1":0,"c1":4,"a2":0,"b2":1,"c2":2,"a3":1,"b3":1,"c3":1},
{"i":16,"j":13,"a1":0,"b1":1,"c1":2,"a2":1,"b2":0,"c2":0,"a3":1,"b3":2,"c3":3},
{"i":16,"j":14,"a1":1,"b1":0,"c1":4,"a2":0,"b2":0,"c2":1,"a3":1,"b3":1,"c3":2},
{"i":16,"j":15,"a1":0,"b1":0,"c1":0,"a2":1,"b2":1,"c2":3,"a3":1,"b3":1,"c3":0},
{"i":16,"j":16,"a1":1,"b1":3,"c1":1,"a2":0,"b2":2,"c2":0,"a3":2,"b3":0,"c3":4}
]},
"resolve":{"scale":{"color":"independent","stroke":"independent"}},
"concat":[
{"bounds":"flush","spacing":46,"resolve":{"scale":{"color":"independent","stroke":"independent"}},"hconcat":[
 {"title":{"text":"a1","frame":"group","anchor":"start"},"width":216,"height":189,"data":{"name":"m"},"mark":{"type":"rect"},
  "encoding":{
   "x":{"field":"j","type":"ordinal","title":null,"axis":{"labelAngle":-45,"labelAlign":"right","labelBaseline":"middle","labelExpr":"'bc'+(datum.value+8)","minExtent":30}},
   "y":{"field":"i","type":"ordinal","title":null,"axis":{"labelExpr":"'bc'+(datum.value+8)","minExtent":29}},
   "color":{"field":"a1","type":"ordinal","scale":{"domain":[0,1,2,3,4],"range":["#ffffff","#0a0a0a","#8c8a6b","#3434a4","#fdf2b3"]},"legend":null},
   "stroke":{"field":"a1","type":"ordinal","scale":{"domain":[0,1,2,3,4],"range":["#ffffff","#2a2a2a","#45443a","#a6a6dc","#cfc69c"]},"legend":null},
   "strokeWidth":{"condition":{"test":"datum.a1>0","value":1},"value":0}}},
 {"title":{"text":"b1","frame":"group","anchor":"start"},"width":219,"height":189,"data":{"name":"m"},"mark":{"type":"rect"},
  "encoding":{
   "x":{"field":"j","type":"ordinal","title":null,"axis":{"labelAngle":-45,"labelAlign":"right","labelBaseline":"middle","labelExpr":"'bc'+(datum.value+8)","minExtent":30}},
   "y":{"field":"i","type":"ordinal","title":null,"axis":{"labelExpr":"['sulpb8','sulpb9','sulpb10','sulpb11','schb12','schb13','schb14','schb15','scha16','sulpa17','sulpa18','sulpa19','bothb20','bothb21','bothb22','botha23','scha24'][datum.value]"}},
   "color":{"field":"b1","type":"ordinal","scale":{"domain":[0,1,2,3,4],"range":["#ffffff","#0a0a0a","#8c8a6b","#3434a4","#fdf2b3"]},"legend":null},
   "stroke":{"field":"b1","type":"ordinal","scale":{"domain":[0,1,2,3,4],"range":["#ffffff","#2a2a2a","#45443a","#a6a6dc","#cfc69c"]},"legend":null},
   "strokeWidth":{"condition":{"test":"datum.b1>0","value":1},"value":0}}},
 {"title":{"text":"c1","frame":"group","anchor":"start"},"width":216,"height":189,"data":{"name":"m"},"mark":{"type":"rect"},
  "encoding":{
   "x":{"field":"j","type":"ordinal","title":null,"axis":{"labelAngle":-45,"labelAlign":"right","labelBaseline":"middle","labelExpr":"['sulpb8','sulpb9','sulpb10','sulpb11','schb12','schb13','schb14','schb15','scha16','sulpa17','sulpa18','sulpa19','bothb20','bothb21','bothb22','botha23','scha24'][datum.value]","minExtent":30}},
   "y":{"field":"i","type":"ordinal","title":null,"axis":{"labelExpr":"['sulpb8','sulpb9','sulpb10','sulpb11','schb12','schb13','schb14','schb15','scha16','sulpa17','sulpa18','sulpa19','bothb20','bothb21','bothb22','botha23','scha24'][datum.value]"}},
   "color":{"field":"c1","type":"ordinal","scale":{"domain":[0,1,2,3,4],"range":["#ffffff","#0a0a0a","#8c8a6b","#3434a4","#fdf2b3"]},"legend":null},
   "stroke":{"field":"c1","type":"ordinal","scale":{"domain":[0,1,2,3,4],"range":["#ffffff","#2a2a2a","#45443a","#a6a6dc","#cfc69c"]},"legend":null},
   "strokeWidth":{"condition":{"test":"datum.c1>0","value":1},"value":0}}}
]},
{"bounds":"flush","spacing":7,"resolve":{"scale":{"color":"independent"}},"hconcat":[
 {"title":{"text":"a2","frame":"group","anchor":"start"},"width":194,"height":192,"data":{"name":"m"},"mark":{"type":"rect"},
  "encoding":{
   "x":{"field":"j","type":"ordinal","title":null,"axis":{"labelAngle":-45,"labelAlign":"right","labelBaseline":"middle","labelExpr":"'bc'+(datum.value+8)","minExtent":46}},
   "y":{"field":"i","type":"ordinal","title":null,"axis":{"labelExpr":"'bc'+(datum.value+8)","minExtent":29}},
   "color":{"field":"a2","type":"ordinal","scale":{"domain":[0,1,2,3],"range":["#f8e22e","#8dbe73","#12a1db","#46469a"]},"legend":null}}},
 {"width":10,"height":192,"data":{"name":"cbA2"},"mark":{"type":"rect"},
  "encoding":{
   "y":{"field":"lo","type":"quantitative","title":null,"scale":{"domain":[-42.4,0],"nice":false,"zero":false},"axis":{"orient":"right","values":[0,-10,-20,-30,-40],"labelExpr":"''+datum.value"}},
   "y2":{"field":"hi"},
   "color":{"field":"k","type":"ordinal","scale":{"domain":[0,1,2,3],"range":["#f8e22e","#8dbe73","#12a1db","#46469a"]},"legend":null}}},
 {"width":37,"height":10,"data":{"values":[]},"mark":{"type":"rect"},"encoding":{},"view":{"stroke":null}},
 {"title":{"text":"b2","frame":"group","anchor":"start"},"width":194,"height":192,"data":{"name":"m"},"mark":{"type":"rect"},
  "encoding":{
   "x":{"field":"j","type":"ordinal","title":null,"axis":{"labelAngle":-45,"labelAlign":"right","labelBaseline":"middle","labelExpr":"'bc'+(datum.value+8)","minExtent":46}},
   "y":{"field":"i","type":"ordinal","title":null,"axis":{"labelExpr":"['sulpb8','sulpb9','sulpb10','sulpb11','schb12','schb13','schb14','schb15','scha16','sulpa17','sulpa18','sulpa19','bothb20','bothb21','bothb22','botha23','scha24'][datum.value]"}},
   "color":{"field":"b2","type":"ordinal","scale":{"domain":[0,1,2,3],"range":["#f8e22e","#8dbe73","#12a1db","#46469a"]},"legend":null}}},
 {"width":10,"height":192,"data":{"name":"cbA2"},"mark":{"type":"rect"},
  "encoding":{
   "y":{"field":"lo","type":"quantitative","title":null,"scale":{"domain":[-42.4,0],"nice":false,"zero":false},"axis":{"orient":"right","values":[0,-10,-20,-30,-40],"labelExpr":"''+datum.value"}},
   "y2":{"field":"hi"},
   "color":{"field":"k","type":"ordinal","scale":{"domain":[0,1,2,3],"range":["#f8e22e","#8dbe73","#12a1db","#46469a"]},"legend":null}}},
 {"width":40,"height":10,"data":{"values":[]},"mark":{"type":"rect"},"encoding":{},"view":{"stroke":null}},
 {"title":{"text":"c2","frame":"group","anchor":"start"},"width":195,"height":192,"data":{"name":"m"},"mark":{"type":"rect"},
  "encoding":{
   "x":{"field":"j","type":"ordinal","title":null,"axis":{"labelAngle":-45,"labelAlign":"right","labelBaseline":"middle","labelExpr":"['sulpb8','sulpb9','sulpb10','sulpb11','schb12','schb13','schb14','schb15','scha16','sulpa17','sulpa18','sulpa19','bothb20','bothb21','bothb22','botha23','scha24'][datum.value]","minExtent":46}},
   "y":{"field":"i","type":"ordinal","title":null,"axis":{"labelExpr":"['sulpb8','sulpb9','sulpb10','sulpb11','schb12','schb13','schb14','schb15','scha16','sulpa17','sulpa18','sulpa19','bothb20','bothb21','bothb22','botha23','scha24'][datum.value]"}},
   "color":{"field":"c2","type":"ordinal","scale":{"domain":[0,1,2,3,4],"range":["#f8e22e","#cbbc56","#19b0d2","#1682d1","#48479b"]},"legend":null}}},
 {"width":14,"height":192,"data":{"name":"cbC2"},"mark":{"type":"rect"},
  "encoding":{
   "y":{"field":"lo","type":"quantitative","title":null,"scale":{"domain":[-24.7,0],"nice":false,"zero":false},"axis":{"orient":"right","values":[0,-10,-20],"labelExpr":"''+datum.value"}},
   "y2":{"field":"hi"},
   "color":{"field":"k","type":"ordinal","scale":{"domain":[0,1,2,3,4],"range":["#f8e22e","#cbbc56","#19b0d2","#1682d1","#48479b"]},"legend":null}}}
]},
{"bounds":"flush","spacing":7,"resolve":{"scale":{"color":"independent"}},"hconcat":[
 {"title":{"text":"a3","frame":"group","anchor":"start"},"width":196,"height":193,"data":{"name":"m"},"mark":{"type":"rect"},
  "encoding":{
   "x":{"field":"j","type":"ordinal","title":null,"axis":{"labelAngle":-45,"labelAlign":"right","labelBaseline":"middle","labelExpr":"'bc'+(datum.value+8)","minExtent":26}},
   "y":{"field":"i","type":"ordinal","title":null,"axis":{"labelExpr":"'bc'+(datum.value+8)","minExtent":36}},
   "color":{"field":"a3","type":"ordinal","scale":{"domain":[0,1,2],"range":["#f8e22e","#1bb2d4","#46469a"]},"legend":null}}},
 {"width":10,"height":193,"data":{"name":"cbA3"},"mark":{"type":"rect"},
  "encoding":{
   "y":{"field":"lo","type":"quantitative","title":null,"scale":{"domain":[0,0.647],"nice":false,"zero":false},"axis":{"orient":"right","values":[0,0.2,0.4,0.6],"labelExpr":"''+datum.value"}},
   "y2":{"field":"hi"},
   "color":{"field":"k","type":"ordinal","scale":{"domain":[0,1,2],"range":["#f8e22e","#1bb2d4","#46469a"]},"legend":null}}},
 {"width":37,"height":10,"data":{"values":[]},"mark":{"type":"rect"},"encoding":{},"view":{"stroke":null}},
 {"title":{"text":"b3","frame":"group","anchor":"start"},"width":196,"height":193,"data":{"name":"m"},"mark":{"type":"rect"},
  "encoding":{
   "x":{"field":"j","type":"ordinal","title":null,"axis":{"labelAngle":-45,"labelAlign":"right","labelBaseline":"middle","labelExpr":"'bc'+(datum.value+8)","minExtent":26}},
   "y":{"field":"i","type":"ordinal","title":null,"axis":{"labelExpr":"['sulpb8','sulpb9','sulpb10','sulpb11','schb12','schb13','schb14','schb15','scha16','sulpa17','sulpa18','sulpa19','bothb20','bothb21','bothb22','botha23','scha24'][datum.value]"}},
   "color":{"field":"b3","type":"ordinal","scale":{"domain":[0,1,2],"range":["#f8e22e","#1bb2d4","#46469a"]},"legend":null}}},
 {"width":12,"height":193,"data":{"name":"cbA3"},"mark":{"type":"rect"},
  "encoding":{
   "y":{"field":"lo","type":"quantitative","title":null,"scale":{"domain":[0,0.647],"nice":false,"zero":false},"axis":{"orient":"right","values":[0,0.2,0.4,0.6],"labelExpr":"''+datum.value"}},
   "y2":{"field":"hi"},
   "color":{"field":"k","type":"ordinal","scale":{"domain":[0,1,2],"range":["#f8e22e","#1bb2d4","#46469a"]},"legend":null}}},
 {"width":39,"height":10,"data":{"values":[]},"mark":{"type":"rect"},"encoding":{},"view":{"stroke":null}},
 {"title":{"text":"c3","frame":"group","anchor":"start"},"width":193,"height":193,"data":{"name":"m"},"mark":{"type":"rect"},
  "encoding":{
   "x":{"field":"j","type":"ordinal","title":null,"axis":{"labelAngle":-45,"labelAlign":"right","labelBaseline":"middle","labelExpr":"['sulpb8','sulpb9','sulpb10','sulpb11','schb12','schb13','schb14','schb15','scha16','sulpa17','sulpa18','sulpa19','bothb20','bothb21','bothb22','botha23','scha24'][datum.value]","minExtent":26}},
   "y":{"field":"i","type":"ordinal","title":null,"axis":{"labelExpr":"['sulpb8','sulpb9','sulpb10','sulpb11','schb12','schb13','schb14','schb15','scha16','sulpa17','sulpa18','sulpa19','bothb20','bothb21','bothb22','botha23','scha24'][datum.value]"}},
   "color":{"field":"c3","type":"ordinal","scale":{"domain":[0,1,2,3,4],"range":["#f8e22e","#cbbc56","#19b0d2","#1682d1","#48479b"]},"legend":null}}},
 {"width":13,"height":193,"data":{"name":"cbC3"},"mark":{"type":"rect"},
  "encoding":{
   "y":{"field":"lo","type":"quantitative","title":null,"scale":{"domain":[0,0.4975],"nice":false,"zero":false},"axis":{"orient":"right","values":[0,0.2,0.4],"labelExpr":"''+datum.value"}},
   "y2":{"field":"hi"},
   "color":{"field":"k","type":"ordinal","scale":{"domain":[0,1,2,3,4],"range":["#f8e22e","#cbbc56","#19b0d2","#1682d1","#48479b"]},"legend":null}}}
]}
]
}
